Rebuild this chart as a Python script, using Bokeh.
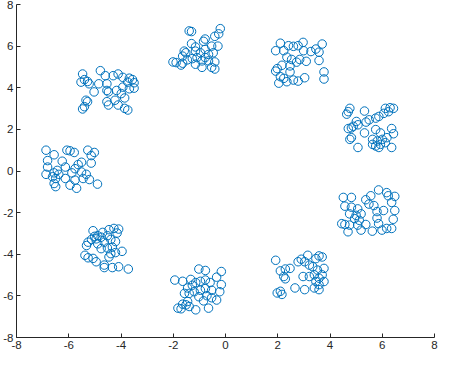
from bokeh.plotting import figure
from bokeh.models import Range1d, FixedTicker
from bokeh.embed import file_html
from bokeh.resources import INLINE

# cluster point coordinates
c1_x = [-1.39, -1.30, -0.20, -0.26, -0.41, -0.78, -0.84, -1.30, -1.15, -0.53, -0.29, -1.58, -1.52, -1.64, -1.15, -0.96, -0.78, -0.65, -0.47, -1.09, -1.27, -1.46, -1.89, -2.01, -1.64, -0.90, -0.65, -0.41, -1.15, -0.90, -0.53, -0.41, -1.70, -0.78]
c1_y = [6.73, 6.70, 6.84, 6.59, 6.47, 6.34, 6.23, 6.12, 5.96, 6.00, 6.00, 5.76, 5.68, 5.52, 5.76, 5.68, 5.84, 5.60, 5.68, 5.45, 5.40, 5.34, 5.21, 5.24, 5.18, 5.29, 5.29, 5.24, 5.13, 4.98, 4.98, 4.90, 5.09, 5.45]

c2_x = [2.10, 1.92, 2.23, 2.41, 2.60, 2.78, 2.97, 2.99, 3.27, 3.46, 3.70, 3.58, 2.35, 2.53, 2.72, 2.84, 3.09, 3.58, 2.16, 1.98, 1.92, 2.47, 2.10, 2.23, 2.35, 2.60, 2.78, 3.03, 3.77, 3.77, 2.04, 2.47]
c2_y = [6.14, 5.78, 5.78, 6.02, 5.99, 6.02, 6.18, 5.78, 5.74, 5.86, 6.10, 5.71, 5.47, 5.36, 5.23, 5.36, 5.27, 5.31, 5.08, 4.92, 4.80, 4.76, 4.53, 4.45, 4.29, 4.37, 4.32, 4.48, 4.76, 4.42, 4.22, 5.05]

c3_x = [4.76, 4.70, 4.64, 5.32, 6.12, 6.30, 6.43, 6.24, 6.06, 5.87, 5.75, 5.50, 5.38, 5.01, 5.07, 4.82, 4.70, 4.89, 5.32, 5.75, 5.93, 6.36, 6.43, 4.82, 4.76, 5.63, 5.81, 6.00, 6.18, 5.75, 5.87, 5.63, 5.07, 6.36, 6.12, 5.93]
c3_y = [3.01, 2.85, 2.73, 2.88, 3.01, 3.04, 3.01, 2.85, 2.77, 2.62, 2.54, 2.46, 2.35, 2.38, 2.22, 2.07, 2.04, 2.15, 1.83, 1.99, 1.83, 2.04, 1.79, 1.60, 1.52, 1.52, 1.44, 1.52, 1.60, 1.20, 1.13, 1.28, 1.13, 1.13, 1.36, 1.28]

c4_x = [5.86, 6.17, 6.23, 6.48, 4.51, 4.82, 5.56, 5.37, 5.49, 5.68, 6.36, 4.57, 4.82, 5.06, 4.75, 5.00, 5.19, 5.80, 6.05, 6.48, 4.94, 5.12, 5.80, 4.57, 4.75, 5.06, 5.37, 6.42, 4.69, 5.19, 5.62, 5.99, 6.17, 6.36, 5.86, 4.45]
c4_y = [-0.91, -1.04, -1.19, -1.22, -1.27, -1.27, -1.19, -1.38, -1.59, -1.66, -1.51, -1.69, -1.74, -1.82, -2.06, -2.13, -2.06, -1.95, -1.90, -1.90, -2.29, -2.37, -2.26, -2.57, -2.60, -2.60, -2.57, -2.32, -2.92, -2.84, -2.89, -2.84, -2.76, -2.76, -2.53, -2.53]

c5_x = [1.92, 2.10, 2.29, 2.47, 2.23, 2.29, 2.78, 2.90, 3.03, 3.15, 3.21, 3.46, 3.58, 3.70, 3.52, 3.77, 2.97, 3.21, 3.40, 3.58, 3.70, 3.46, 3.58, 3.40, 3.58, 2.66, 3.03, 2.10, 1.98, 2.16, 3.34, 3.77]
c5_y = [-4.29, -4.80, -4.71, -4.68, -5.07, -5.18, -4.36, -4.24, -4.36, -4.05, -4.52, -4.21, -4.08, -4.13, -4.76, -4.68, -5.07, -5.07, -4.99, -5.15, -4.99, -5.31, -5.46, -5.62, -5.70, -5.62, -5.70, -5.78, -5.86, -5.93, -4.60, -5.31]

c6_x = [-1.02, -0.77, -0.16, -0.34, -1.94, -1.64, -1.33, -1.14, -0.96, -0.77, -0.59, -0.16, -1.27, -1.45, -1.57, -1.39, -1.20, -0.96, -0.77, -0.53, -0.22, -1.02, -0.71, -0.53, -0.34, -0.84, -1.64, -1.51, -1.82, -1.70, -1.14, -0.65, -1.39, -1.45]
c6_y = [-4.71, -4.78, -4.83, -5.10, -5.24, -5.30, -5.21, -5.36, -5.30, -5.24, -5.36, -5.46, -5.49, -5.62, -5.88, -5.88, -5.80, -5.73, -5.65, -5.73, -5.80, -6.04, -5.99, -6.09, -6.20, -6.24, -6.40, -6.43, -6.59, -6.62, -6.67, -6.59, -6.51, -6.27]

c7_x = [-5.07, -4.70, -4.46, -4.27, -4.09, -4.15, -4.52, -4.76, -4.95, -5.13, -5.26, -5.32, -4.89, -4.64, -4.39, -4.21, -4.76, -4.52, -4.33, -3.96, -4.39, -4.21, -5.38, -5.26, -5.07, -4.95, -4.46, -4.64, -4.64, -4.33, -4.09, -3.72, -4.89, -5.01]
c7_y = [-2.87, -2.95, -2.82, -2.76, -2.79, -2.98, -3.11, -3.18, -3.26, -3.29, -3.42, -3.58, -3.50, -3.42, -3.29, -3.39, -3.73, -3.70, -3.66, -3.86, -3.97, -3.92, -4.05, -4.17, -4.20, -4.36, -4.13, -4.52, -4.64, -4.64, -4.60, -4.71, -3.11, -3.14]

c8_x = [-6.87, -6.56, -6.07, -5.95, -5.79, -5.27, -5.02, -5.14, -6.81, -6.25, -5.51, -5.64, -5.14, -6.81, -6.13, -5.76, -6.44, -6.87, -6.56, -6.38, -5.88, -5.51, -5.33, -6.50, -6.13, -5.76, -5.45, -5.21, -6.56, -6.50, -5.95, -5.70, -4.90, -6.62]
c8_y = [1.00, 0.78, 1.00, 0.97, 0.89, 1.00, 0.89, 0.74, 0.50, 0.47, 0.42, 0.31, 0.38, 0.19, 0.19, 0.11, 0.03, -0.16, -0.09, -0.16, -0.09, -0.05, -0.16, -0.36, -0.36, -0.44, -0.36, -0.41, -0.60, -0.75, -0.68, -0.83, -0.63, -0.28]

c9_x = [-4.79, -5.47, -5.40, -5.28, -5.22, -5.53, -4.60, -4.30, -4.11, -3.93, -3.68, -3.56, -3.50, -3.74, -4.85, -4.54, -4.54, -4.48, -4.17, -3.93, -3.68, -3.50, -5.03, -3.99, -5.34, -5.28, -5.40, -5.47, -4.54, -4.48, -4.23, -4.11, -3.86, -3.74, -3.86]
c9_y = [4.82, 4.66, 4.39, 4.30, 4.19, 4.27, 4.58, 4.58, 4.66, 4.50, 4.46, 4.39, 4.24, 4.27, 4.19, 4.19, 3.87, 3.80, 3.87, 4.03, 3.95, 3.98, 3.80, 3.72, 3.40, 3.33, 3.09, 2.98, 3.33, 3.17, 3.40, 3.17, 3.01, 2.93, 3.51]

ticks = [-8, -6, -4, -2, 0, 2, 4, 6, 8]
tick_labels = ["-8", "-6", "-4", "-2", "0", "2", "4", "6", "8"]

xs = c1_x + c2_x + c3_x + c4_x + c5_x + c6_x + c7_x + c8_x + c9_x
ys = c1_y + c2_y + c3_y + c4_y + c5_y + c6_y + c7_y + c8_y + c9_y

p = figure(width=438, height=351, output_backend="svg", toolbar_location=None,
           x_range=Range1d(-8, 8), y_range=Range1d(-8, 8),
           min_border_left=0, min_border_right=4, min_border_top=4, min_border_bottom=0)
p.outline_line_color = None
p.grid.visible = False
p.background_fill_color = "white"
p.border_fill_color = "white"

p.scatter(xs, ys, marker="circle", size=8.5, fill_color=None,
          line_color="#0072BD", line_width=1)

for ax in (p.xaxis[0], p.yaxis[0]):
    ax.ticker = FixedTicker(ticks=ticks)
    ax.major_label_overrides = {t: s for t, s in zip(ticks, tick_labels)}
    ax.major_tick_in = 4
    ax.major_tick_out = 0
    ax.minor_tick_line_color = None
    ax.axis_line_color = "#262626"
    ax.major_tick_line_color = "#262626"
    ax.major_label_text_color = "#262626"
    ax.major_label_text_font = "Liberation Sans"
    ax.major_label_text_font_size = "11.5px"
p.yaxis[0].major_label_standoff = 3
p.xaxis[0].major_label_standoff = 3

open("out.html", "w").write(file_html(p, INLINE))
